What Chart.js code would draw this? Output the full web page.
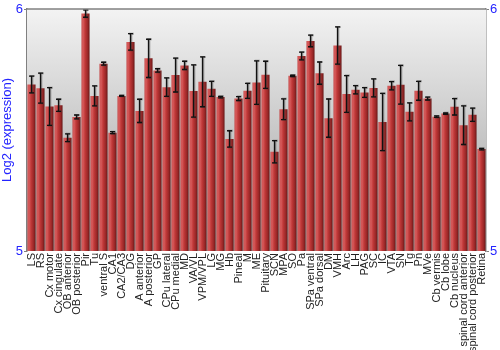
<!DOCTYPE html>
<html>
<head>
<meta charset="utf-8">
<script src="https://cdn.jsdelivr.net/npm/chart.js@4.4.0/dist/chart.umd.min.js"></script>
<style>
html,body{margin:0;padding:0;background:#fff;}
#c{display:block;}
</style>
</head>
<body>
<canvas id="c" width="500" height="350"></canvas>
<script>
const categories = ["LS","RS","Cx motor","Cx cingulate","OB anterior","OB posterior","Pir","Tu","ventral S","CA1","CA2/CA3","DG","A anterior","A posterior","GP","CPu lateral","CPu medial","MD","VA/VL","VPM/VPL","LG","MG","Hb","Pineal","M","ME","Pituitary","SCN","MPA","SO","Pa","SPa ventral","SPa dorsal","DM","VMH","Arc","LH","PAG","SC","IC","VTA","SN","Tg","Pn","MVe","Cb vermis","Cb lobe","Cb nucleus","spinal cord anterior","spinal cord posterior","Retina"];
const expression = [5.688,5.673,5.597,5.602,5.468,5.554,5.981,5.641,5.774,5.489,5.641,5.864,5.579,5.796,5.746,5.677,5.727,5.767,5.661,5.699,5.670,5.636,5.463,5.630,5.662,5.696,5.728,5.410,5.586,5.724,5.806,5.868,5.735,5.549,5.849,5.649,5.666,5.655,5.674,5.533,5.683,5.687,5.575,5.662,5.630,5.555,5.568,5.596,5.520,5.563,5.421];
const errors = [0.035,0.062,0.078,0.025,0.016,0.008,0.015,0.041,0.006,0.004,0.002,0.034,0.048,0.079,0.007,0.038,0.070,0.017,0.108,0.103,0.031,0.003,0.034,0.008,0.031,0.090,0.056,0.046,0.043,0.003,0.016,0.024,0.046,0.079,0.077,0.076,0.017,0.020,0.037,0.118,0.017,0.080,0.037,0.039,0.006,0.003,0.003,0.034,0.080,0.027,0.003];
const yTicks = [5, 6];

const BLUE = '#2424ff';
const BAR_PCT = 0.9;

function barFill(ctx) {
  const chart = ctx.chart;
  const xs = chart.scales && chart.scales.x;
  if (!chart.chartArea || !xs || xs.right === undefined) return '#b83a3a';
  const c = xs.getPixelForValue(ctx.dataIndex);
  const w = (xs.right - xs.left) / categories.length * BAR_PCT;
  const g = chart.ctx.createLinearGradient(c - w / 2, 0, c + w / 2, 0);
  g.addColorStop(0, '#c44646');
  g.addColorStop(0.18, '#d85e5e');
  g.addColorStop(0.45, '#c03838');
  g.addColorStop(0.8, '#962626');
  g.addColorStop(1, '#641515');
  return g;
}

const bgPlugin = {
  id: 'bg',
  beforeDatasetsDraw(chart) {
    const {ctx, chartArea: a} = chart;
    const g = ctx.createLinearGradient(0, a.top, 0, a.bottom);
    g.addColorStop(0, '#f3f3f3');
    g.addColorStop(1, '#9e9e9e');
    ctx.save();
    ctx.fillStyle = g;
    ctx.fillRect(a.left, a.top, a.right - a.left, a.bottom - a.top);
    ctx.restore();
  },
  afterDraw(chart) {
    const {ctx, chartArea: a} = chart;
    ctx.save();
    ctx.strokeStyle = '#808080';
    ctx.lineWidth = 1.5;
    ctx.beginPath();
    ctx.moveTo(a.left, a.top);
    ctx.lineTo(a.right, a.top);
    ctx.stroke();
    ctx.restore();
  }
};

const errPlugin = {
  id: 'errbars',
  afterDatasetsDraw(chart) {
    const {ctx} = chart;
    const meta = chart.getDatasetMeta(0);
    const ys = chart.scales.y;
    ctx.save();
    const drawOne = (dx, color, lw) => {
      ctx.strokeStyle = color;
      ctx.lineWidth = lw;
      meta.data.forEach((bar, i) => {
        const x = bar.x + dx;
        const t = ys.getPixelForValue(expression[i] + errors[i]);
        const b = ys.getPixelForValue(expression[i] - errors[i]);
        ctx.beginPath();
        ctx.moveTo(x, t); ctx.lineTo(x, b);
        ctx.moveTo(x - 2.5, t); ctx.lineTo(x + 2.5, t);
        ctx.moveTo(x - 2.5, b); ctx.lineTo(x + 2.5, b);
        ctx.stroke();
      });
    };
    drawOne(0.8, 'rgba(60,60,60,0.45)', 2);
    drawOne(0, '#111111', 1.3);
    ctx.restore();
  }
};

new Chart(document.getElementById('c'), {
  type: 'bar',
  data: {
    labels: categories,
    datasets: [{
      data: expression,
      backgroundColor: barFill,
      borderWidth: 0,
      barPercentage: BAR_PCT,
      categoryPercentage: 1.0
    }]
  },
  options: {
    responsive: false,
    animation: false,
    layout: {padding: {top: 9, right: 0, left: 0, bottom: 0}},
    plugins: {legend: {display: false}, tooltip: {enabled: false}},
    scales: {
      x: {
        offset: true,
        grid: {display: false, drawTicks: false},
        border: {display: false},
        ticks: {
          autoSkip: false, maxRotation: 90, minRotation: 90, padding: 2,
          color: '#222222',
          font: {family: '"Liberation Sans", Arial, sans-serif', size: 11}
        },
        afterFit(s) { s.height = 99; }
      },
      y: {
        position: 'left',
        min: 5, max: 6,
        afterBuildTicks(s) { s.ticks = yTicks.map(v => ({value: v})); },
        grid: {drawOnChartArea: false, tickLength: 3, color: '#808080'},
        border: {display: true, color: '#808080', width: 1.5},
        ticks: {color: BLUE, padding: 1, font: {family: '"Liberation Sans", Arial, sans-serif', size: 13}},
        title: {display: true, text: 'Log2 (expression)', color: BLUE, padding: {top: 0, bottom: 0},
                font: {family: '"Liberation Sans", Arial, sans-serif', size: 13}},
        afterFit(s) { s.width = 27; }
      },
      y2: {
        position: 'right',
        min: 5, max: 6,
        afterBuildTicks(s) { s.ticks = yTicks.map(v => ({value: v})); },
        grid: {drawOnChartArea: false, tickLength: 3, color: '#808080'},
        border: {display: true, color: '#808080', width: 1.5},
        ticks: {color: BLUE, padding: 1, font: {family: '"Liberation Sans", Arial, sans-serif', size: 13}},
        afterFit(s) { s.width = 14; }
      }
    }
  },
  plugins: [bgPlugin, errPlugin]
});
</script>
</body>
</html>
